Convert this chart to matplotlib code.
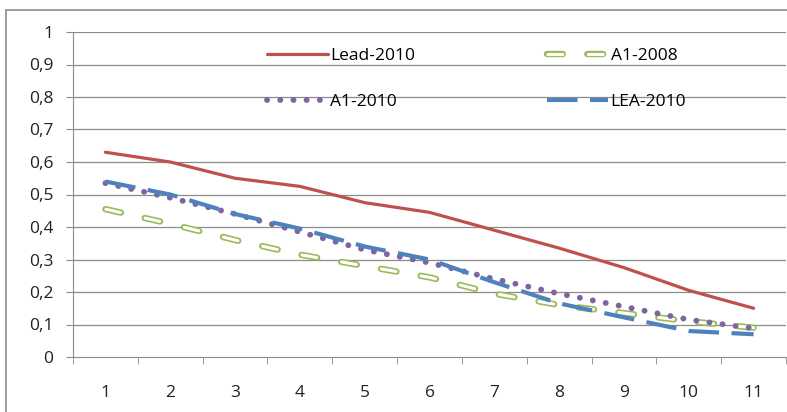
import numpy as np
import matplotlib.pyplot as plt
from matplotlib.patches import Rectangle

plt.rcParams['font.family'] = ['Open Sans', 'DejaVu Sans']
plt.rcParams['lines.scale_dashes'] = False

# Datos
x = list(range(1, 12))
lead_2010 = [0.63, 0.60, 0.55, 0.525, 0.475, 0.445, 0.39, 0.335, 0.275, 0.205, 0.15]
a1_2008 = [0.455, 0.41, 0.36, 0.315, 0.28, 0.245, 0.195, 0.16, 0.135, 0.11, 0.09]
a1_2010 = [0.535, 0.49, 0.44, 0.385, 0.33, 0.29, 0.24, 0.195, 0.155, 0.115, 0.088]
lea_2010 = [0.54, 0.50, 0.44, 0.395, 0.34, 0.30, 0.23, 0.165, 0.122, 0.08, 0.07]
yticks = np.arange(0, 1.01, 0.1)
ylabels = ['0', '0,1', '0,2', '0,3', '0,4', '0,5', '0,6', '0,7', '0,8', '0,9', '1']

fig = plt.figure(figsize=(7.87, 4.12), dpi=100)
ax = fig.add_axes([73 / 787, 1 - 357 / 412, 713 / 787, 325 / 412])

# Marco exterior
fig.patches.append(Rectangle((6 / 787, -0.2), 1.2, 1 - 10 / 412 + 0.2,
                             transform=fig.transFigure, fill=False,
                             edgecolor='#8c8c8c', lw=1.2))

for yv in yticks[1:]:
    ax.axhline(yv, color='#8c8c8c', lw=0.9, zorder=0)

l_lead, = ax.plot(x, lead_2010, color='#C0504D', lw=2.3, solid_capstyle='round')
# guiones verdes con contorno (linea gruesa verde + linea fina blanca encima)
l_a08o, = ax.plot(x, a1_2008, color='#9BBB59', lw=4.6, linestyle=(0, (11.4, 17.6)),
                  dash_capstyle='round')
l_a08i, = ax.plot(x, a1_2008, color='white', lw=2.2, linestyle=(28.7, (10.8, 18.2)),
                  dash_capstyle='round')
l_a10, = ax.plot(x, a1_2010, color='#8064A2', lw=4.2, linestyle=(0, (0.1, 9.4)),
                 dash_capstyle='round')
l_lea, = ax.plot(x, lea_2010, color='#4F81BD', lw=3.0, linestyle=(0, (22, 9)))

ax.set_xlim(0.5, 11.5)
ax.set_ylim(0, 1)
ax.set_yticks(yticks)
ax.set_yticklabels(ylabels)
ax.set_xticks(x)
ax.set_xticks(np.arange(0.5, 11.6, 1), minor=True)
ax.tick_params(axis='x', which='major', length=0, pad=20, labelsize=12.5, colors='#222222')
ax.tick_params(axis='x', which='minor', length=5, color='#8c8c8c', direction='out')
ax.tick_params(axis='y', length=5, color='#8c8c8c', pad=9, labelsize=12.5,
               labelcolor='#222222')
for s in ['top', 'right']:
    ax.spines[s].set_visible(False)
for s in ['left', 'bottom']:
    ax.spines[s].set_color('#8c8c8c')

ax.legend([l_lead, l_a10, (l_a08o, l_a08i), l_lea],
          ['Lead-2010', 'A1-2010', 'A1-2008', 'LEA-2010'],
          ncol=2, frameon=False, fontsize=12.5, handlelength=3.5,
          handletextpad=0.15, columnspacing=7.6, labelspacing=1.75,
          loc='upper left', bbox_to_anchor=(0.25, 1.0))

fig.savefig('out.png', dpi=100)
